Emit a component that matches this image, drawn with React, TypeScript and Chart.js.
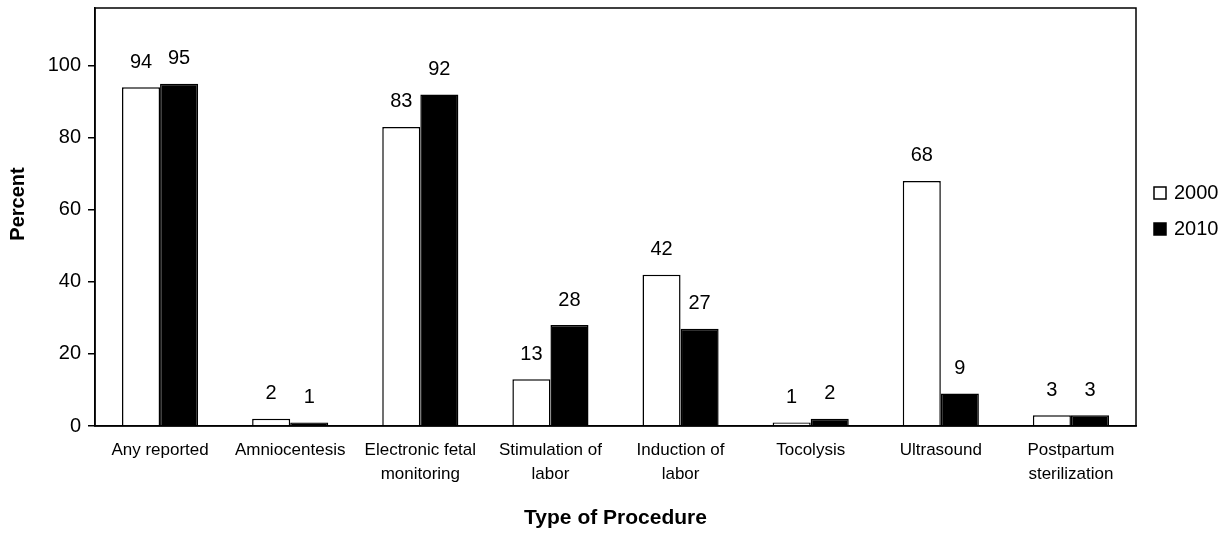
import React, { useEffect, useRef } from "react";
import { Chart, registerables } from "chart.js";

Chart.register(...registerables);

const categories: (string | string[])[] = [
  "Any reported",
  "Amniocentesis",
  ["Electronic fetal", "monitoring"],
  ["Stimulation of", "labor"],
  ["Induction of", "labor"],
  "Tocolysis",
  "Ultrasound",
  ["Postpartum", "sterilization"],
];
const values2000 = [94, 2, 83, 13, 42, 1, 68, 3];
const values2010 = [95, 1, 92, 28, 27, 2, 9, 3];
const seriesLabels = ["2000", "2010"];
const yTicks = [0, 20, 40, 60, 80, 100];
const xTitle = "Type of Procedure";
const yTitle = "Percent";

const FONT = "'Liberation Sans', Arial, sans-serif";

const framePlugin = {
  id: "frame",
  afterDraw(chart: any) {
    const { ctx, chartArea } = chart;
    ctx.save();
    ctx.strokeStyle = "#000";
    ctx.lineWidth = 1.5;
    ctx.strokeRect(chartArea.left, chartArea.top, chartArea.right - chartArea.left, chartArea.bottom - chartArea.top);
    // axis titles
    ctx.fillStyle = "#000";
    ctx.font = `bold 21px ${FONT}`;
    ctx.textAlign = "center";
    ctx.textBaseline = "middle";
    ctx.fillText(xTitle, (chartArea.left + chartArea.right) / 2, 518);
    ctx.translate(18, 204);
    ctx.rotate(-Math.PI / 2);
    ctx.font = `bold 20px ${FONT}`;
    ctx.fillText(yTitle, 0, 0);
    ctx.restore();
  },
};

const labelPlugin = {
  id: "valueLabels",
  afterDatasetsDraw(chart: any) {
    const { ctx } = chart;
    ctx.save();
    ctx.fillStyle = "#000";
    ctx.font = `20px ${FONT}`;
    ctx.textAlign = "center";
    ctx.textBaseline = "middle";
    chart.data.datasets.forEach((ds: any, i: number) => {
      const meta = chart.getDatasetMeta(i);
      meta.data.forEach((bar: any, j: number) => {
        ctx.fillText(String(ds.data[j]), bar.x, bar.y - 25);
      });
    });
    ctx.restore();
  },
};

const legendPlugin = {
  id: "customLegend",
  afterDraw(chart: any) {
    const { ctx, chartArea } = chart;
    ctx.save();
    const x = chartArea.right + 18;
    const ys = [193, 229];
    chart.data.datasets.forEach((ds: any, i: number) => {
      const y = ys[i];
      ctx.fillStyle = ds.backgroundColor;
      ctx.fillRect(x, y - 6, 12, 12);
      ctx.strokeStyle = "#000";
      ctx.lineWidth = 1.5;
      ctx.strokeRect(x, y - 6, 12, 12);
      ctx.fillStyle = "#000";
      ctx.font = `20px ${FONT}`;
      ctx.textAlign = "left";
      ctx.textBaseline = "middle";
      ctx.fillText(ds.label, x + 20, y);
    });
    ctx.restore();
  },
};

export default function App() {
  const ref = useRef<HTMLCanvasElement>(null);
  useEffect(() => {
    document.body.style.margin = "0";
    const chart = new Chart(ref.current!, {
      type: "bar",
      data: {
        labels: categories,
        datasets: [
          {
            label: seriesLabels[0],
            data: values2000,
            backgroundColor: "#ffffff",
            borderColor: "#000000",
            borderWidth: 1.5,
          },
          {
            label: seriesLabels[1],
            data: values2010,
            backgroundColor: "#000000",
            borderColor: "#000000",
            borderWidth: 1.5,
          },
        ],
      },
      options: {
        animation: false,
        responsive: false,
        maintainAspectRatio: false,
        layout: { padding: { top: 8, right: 92, left: 0, bottom: 0 } },
        datasets: { bar: { categoryPercentage: 0.585, barPercentage: 1 } },
        plugins: { legend: { display: false }, tooltip: { enabled: false } },
        scales: {
          x: {
            grid: { display: false, drawTicks: false },
            border: { display: true, color: "#000", width: 1.5 },
            ticks: {
              color: "#000",
              font: { family: FONT, size: 17, lineHeight: 1.42 },
              padding: 12,
              maxRotation: 0,
              autoSkip: false,
            },
            afterFit(scale: any) {
              scale.height = 107;
              scale.paddingLeft = 0;
              scale.paddingRight = 0;
            },
          },
          y: {
            min: 0,
            max: 116,
            grid: { drawOnChartArea: false, drawTicks: true, tickLength: 7, color: "#000", lineWidth: 1.5 },
            border: { display: true, color: "#000", width: 1.5 },
            ticks: {
              color: "#000",
              font: { family: FONT, size: 20 },
              padding: 7,
              stepSize: 20,
            },
            afterBuildTicks(scale: any) {
              scale.ticks = yTicks.map((v) => ({ value: v }));
            },
            afterFit(scale: any) {
              scale.width = 95;
              scale.paddingTop = 0;
              scale.paddingBottom = 0;
            },
          },
        },
      },
      plugins: [framePlugin, labelPlugin, legendPlugin],
    });
    return () => chart.destroy();
  }, []);
  return <canvas ref={ref} width={1228} height={533} style={{ display: "block" }} />;
}
